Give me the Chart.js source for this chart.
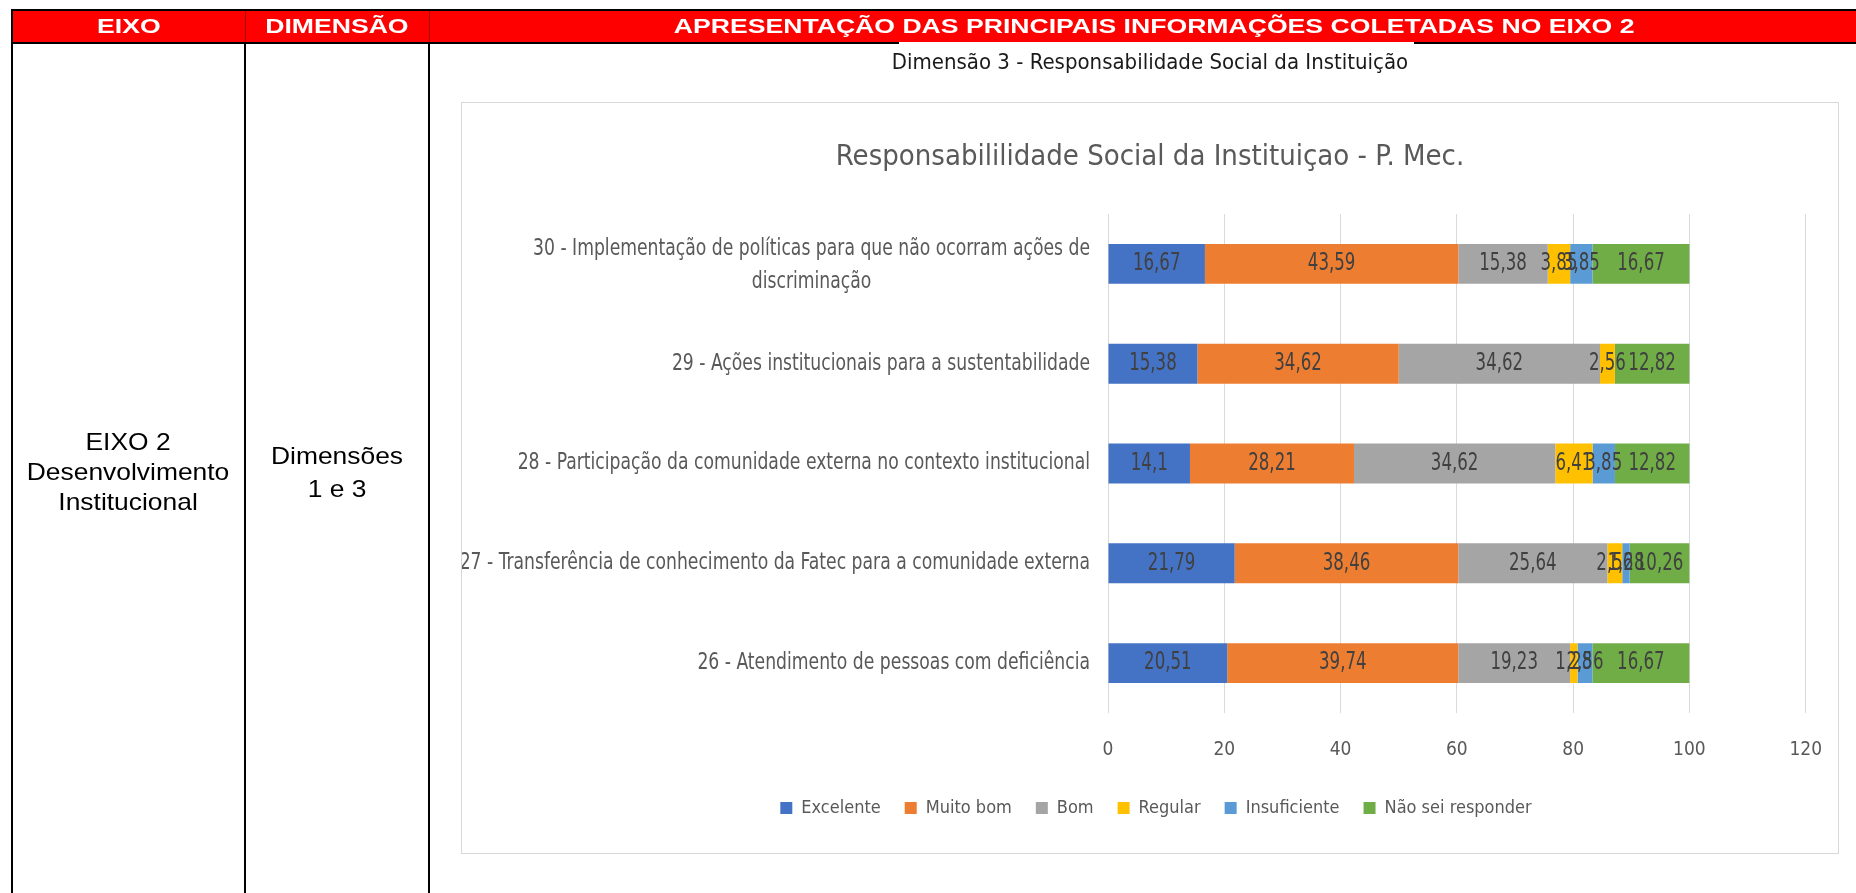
<!DOCTYPE html>
<html lang="pt-BR">
<head>
<meta charset="utf-8">
<title>Dimensão 3 - Responsabilidade Social da Instituição</title>
<script src="https://cdn.jsdelivr.net/npm/chart.js@4.4.0/dist/chart.umd.min.js"></script>
<style>
  html, body { margin: 0; padding: 0; background: #fff; }
  body { width: 1856px; height: 893px; position: relative; overflow: hidden; font-family: "Liberation Sans", Arial, sans-serif; }

  /* cabeçalho vermelho da tabela */
  .head { position: absolute; left: 11px; top: 9px; width: 1845px; height: 31px; background: #ff0000;
          border-top: 2px solid #000; border-left: 2px solid #000; border-bottom: 2px solid #000; }
  .head-txt { position: absolute; top: 11px; height: 31px; line-height: 31px; text-align: center;
              color: #fff; font-weight: bold; font-size: 20px; white-space: nowrap; }
  .head-txt span { display: inline-block; transform: scaleX(1.33); }
  .head-sep { position: absolute; top: 11px; width: 1px; height: 31px; background: rgba(80,0,0,0.5); }

  /* linhas verticais do corpo */
  .vline { position: absolute; top: 44px; width: 2px; height: 849px; background: #000; }

  .cell-txt { position: absolute; text-align: center; font-size: 24px; color: #000; white-space: nowrap; }
  .cell-txt span { display: inline-block; transform: scaleX(1.1); }

  .patch { position: absolute; left: 899px; top: 42px; width: 515px; height: 3px; background: #fff; }
  .subtitle { position: absolute; left: 650px; width: 1000px; top: 47px; text-align: center;
              font-family: "DejaVu Sans Condensed", sans-serif;
              font-size: 22px; color: #1a1a1a; line-height: 30px; filter: blur(0.4px); }

  .frame { position: absolute; left: 461px; top: 102px; width: 1376px; height: 750px;
           border: 1px solid #d9d9d9; background: #fff; }
  .frame canvas { display: block; filter: blur(0.5px); }
</style>
</head>
<body>

<div class="head"></div>
<div class="head-txt" style="left:13px;width:231px"><span>EIXO</span></div>
<div class="head-txt" style="left:246px;width:182px"><span>DIMENSÃO</span></div>
<div class="head-txt" style="left:430px;width:1448px"><span>APRESENTAÇÃO DAS PRINCIPAIS INFORMAÇÕES COLETADAS NO EIXO 2</span></div>
<div class="head-sep" style="left:245px"></div>
<div class="head-sep" style="left:429px"></div>

<div class="vline" style="left:11px"></div>
<div class="vline" style="left:244px"></div>
<div class="vline" style="left:428px"></div>

<div class="cell-txt" style="left:13px;width:231px;top:427px;line-height:30px">
  <span>EIXO 2<br>Desenvolvimento<br>Institucional</span>
</div>
<div class="cell-txt" style="left:246px;width:182px;top:439px;line-height:33px">
  <span>Dimensões<br>1 e 3</span>
</div>

<div class="patch"></div>
<div class="subtitle">Dimensão 3 - Responsabilidade Social da Instituição</div>

<div class="frame">
  <canvas id="grafico" width="1376" height="750"></canvas>
</div>

<script>
const fontFamily = "'DejaVu Sans Condensed', 'Liberation Sans Narrow', sans-serif";

// perguntas (de cima para baixo)
const categories = [
  ['30 - Implementação de políticas para que não ocorram ações de', 'discriminação'],
  '29 - Ações institucionais para a sustentabilidade',
  '28 - Participação da comunidade externa no contexto institucional',
  '27 - Transferência de conhecimento da Fatec para a comunidade externa',
  '26 - Atendimento de pessoas com deficiência'
];

const seriesNames = ['Excelente', 'Muito bom', 'Bom', 'Regular', 'Insuficiente', 'Não sei responder'];
const seriesColors = ['#4472C4', '#ED7D31', '#A5A5A5', '#FFC000', '#5B9BD5', '#70AD47'];

// percentuais por resposta
const excelente    = [16.67, 15.38, 14.1, 21.79, 20.51];
const muitoBom     = [43.59, 34.62, 28.21, 38.46, 39.74];
const bom          = [15.38, 34.62, 34.62, 25.64, 19.23];
const regular      = [3.85, 2.56, 6.41, 2.56, 1.28];
const insuficiente = [3.85, null, 3.85, 1.28, 2.56];
const naoSei       = [16.67, 12.82, 12.82, 10.26, 16.67];

const xTicks = [0, 20, 40, 60, 80, 100, 120];

const seriesValues = [excelente, muitoBom, bom, regular, insuficiente, naoSei];

const datasets = seriesNames.map((name, i) => ({
  label: name,
  data: seriesValues[i],
  backgroundColor: seriesColors[i],
  borderWidth: 0
}));

// texto estreito (comprimido na horizontal)
function narrowText(ctx, text, x, y, sx) {
  ctx.save();
  ctx.translate(x, y);
  ctx.scale(sx, 1);
  ctx.fillText(text, 0, 0);
  ctx.restore();
}

// Rótulos do eixo Y: primeira linha encostada à direita, continuação centralizada abaixo
const yLabels = {
  id: 'yLabels',
  afterDraw(chart) {
    const ctx = chart.ctx;
    const scale = chart.scales.y;
    const right = chart.chartArea.left - 18;
    const sx = 0.832;
    ctx.save();
    ctx.font = '23px ' + fontFamily;
    ctx.fillStyle = '#595959';
    ctx.textAlign = 'center';
    ctx.textBaseline = 'middle';
    categories.forEach((label, i) => {
      const lines = Array.isArray(label) ? label : [label];
      const y = scale.getPixelForTick(i);
      const cx = right - ctx.measureText(lines[0]).width * sx / 2;
      lines.forEach((line, k) => {
        const dy = lines.length > 1 ? 1.5 + (k - (lines.length - 1) / 2) * 33 : 0;
        narrowText(ctx, line, cx, y + dy, sx);
      });
    });
    ctx.restore();
  }
};

// Valores dentro de cada segmento
const valueLabels = {
  id: 'valueLabels',
  afterDatasetsDraw(chart) {
    const ctx = chart.ctx;
    ctx.save();
    ctx.font = '24px ' + fontFamily;
    ctx.fillStyle = '#404040';
    ctx.textAlign = 'center';
    ctx.textBaseline = 'middle';
    chart.data.datasets.forEach((ds, i) => {
      chart.getDatasetMeta(i).data.forEach((bar, j) => {
        const v = ds.data[j];
        if (v == null) return;
        narrowText(ctx, String(v).replace('.', ','), (bar.x + bar.base) / 2, bar.y, 0.77);
      });
    });
    ctx.restore();
  }
};

// a legenda do Chart.js soma o espaçamento final à linha; recentraliza no quadro
const legendShift = {
  id: 'legendShift',
  afterLayout(chart) {
    chart.legend.left += 6;
    chart.legend.right += 6;
  }
};

Chart.defaults.font.family = fontFamily;

new Chart(document.getElementById('grafico'), {
  type: 'bar',
  data: { labels: categories, datasets: datasets },
  options: {
    indexAxis: 'y',
    responsive: false,
    animation: false,
    layout: { padding: { top: 36.6, right: 0, bottom: 26, left: 0 } },
    datasets: { bar: { barPercentage: 0.4, categoryPercentage: 1 } },
    scales: {
      x: {
        stacked: true,
        min: xTicks[0],
        max: xTicks[xTicks.length - 1],
        ticks: { stepSize: xTicks[1] - xTicks[0], color: '#595959', padding: 16, font: { size: 19, lineHeight: 42 / 19 } },
        grid: { color: '#d9d9d9', drawTicks: false },
        border: { display: false },
        afterFit(scale) { scale.height = 62; }
      },
      y: {
        stacked: true,
        grid: { display: false },
        border: { display: false },
        ticks: { display: false },
        afterFit(scale) { scale.width = 646; }
      }
    },
    plugins: {
      title: {
        display: true,
        text: 'Responsabililidade Social da Instituiçao - P. Mec.',
        color: '#595959',
        font: { size: 29, weight: 'normal' },
        padding: { top: 0, bottom: 39.6 }
      },
      legend: {
        position: 'bottom',
        labels: { boxWidth: 12, boxHeight: 12, padding: 24, color: '#595959', font: { size: 18 } }
      },
      tooltip: { enabled: false }
    }
  },
  plugins: [yLabels, valueLabels, legendShift]
});
</script>
</body>
</html>
